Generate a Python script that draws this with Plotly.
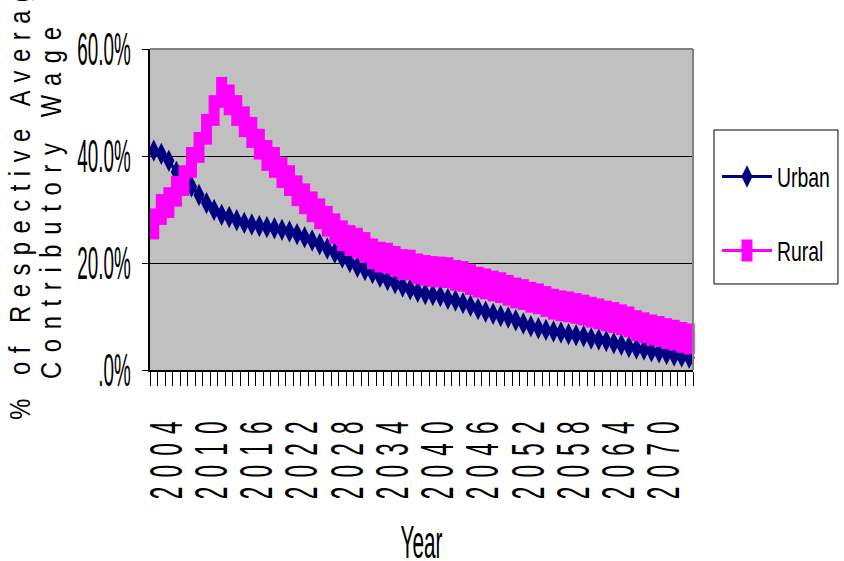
import plotly.graph_objects as go

# Replacement rate by year, percent of the respective average contributory wage
years = list(range(2004, 2076))
urban = [41.0, 40.4, 39.1, 37.0, 35.6, 34.3, 32.7, 31.2, 29.9, 29.0,
         28.6, 28.0, 27.5, 27.2, 26.9, 26.7, 26.5, 26.2, 25.9, 25.4,
         24.8, 24.2, 23.5, 22.7, 21.9, 21.0, 20.2, 19.3, 18.7, 18.1,
         17.4, 16.8, 16.2, 15.6, 15.1, 14.6, 14.2, 14.0, 13.8, 13.3,
         13.0, 12.5, 12.0, 11.4, 10.9, 10.5, 10.1, 9.8, 9.3, 8.7,
         8.2, 7.8, 7.5, 7.2, 7.0, 6.7, 6.5, 6.3, 5.9, 5.7,
         5.4, 5.0, 4.7, 4.3, 4.0, 3.8, 3.5, 3.3, 3.0, 2.7,
         2.5, 2.3]
rural = [27.3, 30.0, 31.3, 33.4, 35.4, 38.8, 41.6, 45.0, 48.5, 51.9,
         50.5, 48.5, 46.4, 44.4, 42.2, 40.1, 38.8, 36.9, 35.4, 33.5,
         32.0, 30.5, 29.2, 27.8, 26.4, 25.1, 24.2, 23.7, 22.9, 21.7,
         21.1, 20.9, 20.3, 19.7, 19.6, 18.9, 18.6, 18.4, 18.3, 18.2,
         17.7, 17.5, 16.9, 16.4, 16.1, 15.7, 15.4, 14.9, 14.4, 14.1,
         13.6, 13.3, 12.8, 12.3, 12.0, 11.8, 11.5, 11.2, 10.8, 10.5,
         10.1, 9.8, 9.4, 9.0, 8.3, 7.9, 7.5, 7.2, 6.8, 6.5,
         6.1, 5.8]

label_years = list(range(2004, 2071, 6))
y_ticks = [0, 20, 40, 60]
y_tick_text = [".0%", "20.0%", "40.0%", "60.0%"]

FONT = "Liberation Sans, Arial, sans-serif"
NAVY = "#000080"
MAGENTA = "#FF00FF"

fig = go.Figure()
fig.add_trace(go.Scatter(
    x=years, y=urban, name="Urban", mode="lines+markers", legendgroup="urban",
    cliponaxis=False,
    line=dict(color=NAVY, width=3),
    marker=dict(symbol="diamond-tall", size=16, color=NAVY, line=dict(width=0)),
))
fig.add_trace(go.Scatter(
    x=years, y=rural, name="Rural", mode="lines+markers", legendgroup="rural",
    cliponaxis=False,
    line=dict(color=MAGENTA, width=3),
    marker=dict(symbol="line-ns", size=22, color=MAGENTA,
                line=dict(width=11, color=MAGENTA)),
))

fig.update_layout(
    width=844, height=561, autosize=False,
    margin=dict(l=150, r=151, t=49, b=191, pad=0, autoexpand=False),
    paper_bgcolor="white", plot_bgcolor="#C0C0C0",
    font=dict(family=FONT, color="black"),
    showlegend=True,
    legend=dict(xref="container", yref="container", x=0.8495, y=0.7283,
                xanchor="left", yanchor="top",
                bgcolor="rgba(0,0,0,0)", borderwidth=0,
                font=dict(size=27, family=FONT, color="black"),
                traceorder="grouped", tracegroupgap=36, itemwidth=50),
    xaxis=dict(range=[2003.5, 2075.5], showgrid=False, zeroline=False,
               automargin=False,
               showline=True, linecolor="black", linewidth=2,
               tickmode="array", tickvals=label_years,
               ticktext=[str(y) for y in label_years],
               ticks="", tickangle=-90, tickfont=dict(size=46),
               ticklabelstandoff=22, ticklabelshift=13,
               minor=dict(tickmode="linear", tick0=2003.5, dtick=1,
                          ticks="outside", ticklen=14, tickwidth=1,
                          tickcolor="black", showgrid=False)),
    yaxis=dict(range=[0, 60], tickmode="array", tickvals=y_ticks,
               automargin=False,
               ticktext=y_tick_text, ticks="outside", ticklen=6,
               tickwidth=1, tickcolor="black",
               showline=True, linecolor="black", linewidth=2,
               showgrid=True, gridcolor="black", gridwidth=1,
               zeroline=False, tickfont=dict(size=46),
               ticklabelstandoff=2),
    shapes=[
        dict(type="line", xref="paper", yref="paper", x0=0, x1=1, y0=1, y1=1,
             line=dict(color="#808080", width=2)),
        dict(type="line", xref="paper", yref="paper", x0=1, x1=1, y0=0, y1=1,
             line=dict(color="#808080", width=2)),
        dict(type="rect", xref="paper", yref="paper",
             x0=1.0387, x1=1.267, y0=0.268, y1=0.7477,
             line=dict(color="black", width=1), fillcolor="rgba(0,0,0,0)"),
    ],
    annotations=[
        dict(text="% of Respective Average", textangle=-90, showarrow=False,
             xref="paper", yref="paper", x=-0.2394, y=0.564,
             xanchor="center", yanchor="middle", font=dict(size=29)),
        dict(text="Contributory Wage", textangle=-90, showarrow=False,
             xref="paper", yref="paper", x=-0.1823, y=0.534,
             xanchor="center", yanchor="middle", font=dict(size=29)),
        dict(text="Year", showarrow=False, xref="paper", yref="paper",
             x=0.5, y=-0.537, xanchor="center", yanchor="middle",
             font=dict(size=46)),
    ],
)

# Condensed, letter-spaced lettering for the axis and legend texts
post_js = """
var gd = document.getElementById('{plot_id}');
function squeeze(t, sx) {
  var cur = t.getAttribute('transform') || '';
  var orig = t.getAttribute('data-tf0');
  if (orig === null || cur !== t.getAttribute('data-tf1')) {
    orig = cur; t.setAttribute('data-tf0', orig);
  }
  if (orig) { t.setAttribute('transform', orig); } else { t.removeAttribute('transform'); }
  var bb = t.getBBox();
  var a = window.getComputedStyle(t).textAnchor;
  var ax = a === 'end' ? bb.x + bb.width : (a === 'middle' ? bb.x + bb.width / 2 : bb.x);
  var tf = (orig + ' translate(' + ax + ',0) scale(' + sx + ',1) translate(' + (-ax) + ',0)').trim();
  t.setAttribute('transform', tf);
  t.setAttribute('data-tf1', tf);
}
function restyleText() {
  gd.querySelectorAll('.xtick text').forEach(function (t) {
    t.style.letterSpacing = '18.7px'; squeeze(t, 0.49);
  });
  gd.querySelectorAll('.ytick text').forEach(function (t) { squeeze(t, 0.41); });
  gd.querySelectorAll('.legendtext').forEach(function (t) { squeeze(t, 0.72); });
  gd.querySelectorAll('.annotation').forEach(function (g) {
    var i = g.getAttribute('data-index');
    var t = g.querySelector('text');
    if (!t) return;
    if (i === '0') { t.style.letterSpacing = '10.4px'; squeeze(t, 0.82); }
    if (i === '1') { t.style.letterSpacing = '11.8px'; squeeze(t, 0.82); }
    if (i === '2') { squeeze(t, 0.45); }
  });
  // full-size bar symbol for the Rural legend entry
  gd.querySelectorAll('.legend .traces').forEach(function (tr) {
    var lbl = tr.querySelector('.legendtext');
    if (!lbl || lbl.textContent !== 'Rural') return;
    tr.querySelectorAll('.legendpoints path.scatterpts').forEach(function (p) {
      p.setAttribute('d', 'M0,11V-11');
      p.style.strokeWidth = '11px';
    });
  });
}
restyleText();
gd.on('plotly_afterplot', restyleText);
"""

fig.write_html("out.html", post_script=post_js, config={"displayModeBar": False})
